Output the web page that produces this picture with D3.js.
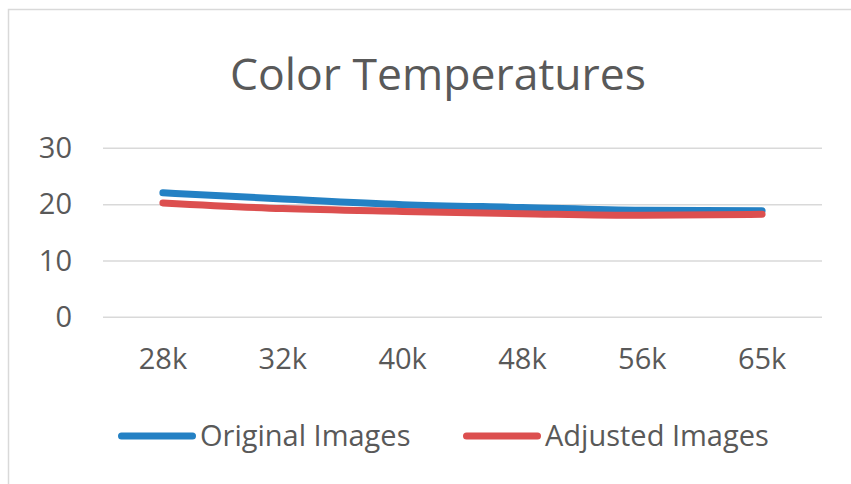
<!DOCTYPE html>
<html>
<head>
<meta charset="utf-8">
<script src="https://cdn.jsdelivr.net/npm/d3@7"></script>
<style>
  html, body { margin: 0; padding: 0; background: #fff; }
  svg { display: block; }
  text { font-family: "Open Sans", "Noto Sans", sans-serif; fill: #595959; }
</style>
</head>
<body>
<svg id="chart" width="851" height="484"></svg>
<script>
// Chart data
const categories = ["28k", "32k", "40k", "48k", "56k", "65k"];
const originalImages = [22.1, 21.0, 20.0, 19.5, 19.0, 18.9];
const adjustedImages = [20.3, 19.3, 18.8, 18.4, 18.1, 18.3];
const yTicks = [0, 10, 20, 30];
const seriesNames = ["Original Images", "Adjusted Images"];
const seriesColors = ["#2481c4", "#dc4f4f"];

const svg = d3.select("#chart");
const W = 851, H = 484;
const plot = { left: 103, right: 822, top: 148.3, bottom: 317.3 };

// Outer chart border
svg.append("rect")
  .attr("x", 8.5).attr("y", 9.5)
  .attr("width", W + 20).attr("height", H + 20)
  .attr("fill", "#fff").attr("stroke", "#d9d9d9").attr("stroke-width", 1.5);

// Title
svg.append("text")
  .attr("x", 438).attr("y", 90)
  .attr("text-anchor", "middle")
  .attr("font-size", 44.5)
  .text("Color Temperatures");

const x = d3.scaleBand().domain(categories).range([plot.left, plot.right]).padding(0);
const y = d3.scaleLinear().domain([0, 30]).range([plot.bottom, plot.top]);

// Horizontal gridlines
svg.append("g").selectAll("line").data(yTicks).join("line")
  .attr("x1", plot.left).attr("x2", plot.right)
  .attr("y1", d => y(d)).attr("y2", d => y(d))
  .attr("stroke", "#d9d9d9").attr("stroke-width", 1.5);

// Y axis labels
const yAxis = d3.axisLeft(y).tickValues(yTicks).tickSize(0).tickPadding(0);
svg.append("g")
  .attr("transform", `translate(72,0)`)
  .call(yAxis)
  .call(g => g.select(".domain").remove())
  .call(g => g.selectAll("text")
    .attr("font-size", 29).attr("fill", "#595959")
    .attr("font-family", "'Open Sans', sans-serif"));

// X axis labels
const xAxis = d3.axisBottom(x).tickSize(0).tickPadding(0);
svg.append("g")
  .attr("transform", `translate(0,${plot.bottom + 31})`)
  .call(xAxis)
  .call(g => g.select(".domain").remove())
  .call(g => g.selectAll("text")
    .attr("font-size", 29).attr("fill", "#595959")
    .attr("font-family", "'Open Sans', sans-serif"));

// Series lines
const line = d3.line()
  .x((d, i) => x(categories[i]) + x.bandwidth() / 2)
  .y(d => y(d))
  .curve(d3.curveMonotoneX);

[originalImages, adjustedImages].forEach((vals, i) => {
  svg.append("path")
    .datum(vals)
    .attr("d", line)
    .attr("fill", "none")
    .attr("stroke", seriesColors[i])
    .attr("stroke-width", 7)
    .attr("stroke-linecap", "round")
    .attr("stroke-linejoin", "round");
});

// Legend
const legendX = [118, 463];
const legend = svg.append("g");
seriesNames.forEach((name, i) => {
  legend.append("line")
    .attr("x1", legendX[i] + 3.5).attr("x2", legendX[i] + 74.5)
    .attr("y1", 436).attr("y2", 436)
    .attr("stroke", seriesColors[i]).attr("stroke-width", 7)
    .attr("stroke-linecap", "round");
  legend.append("text")
    .attr("x", legendX[i] + 82).attr("y", 446)
    .attr("font-size", 29)
    .text(name);
});
</script>
</body>
</html>
